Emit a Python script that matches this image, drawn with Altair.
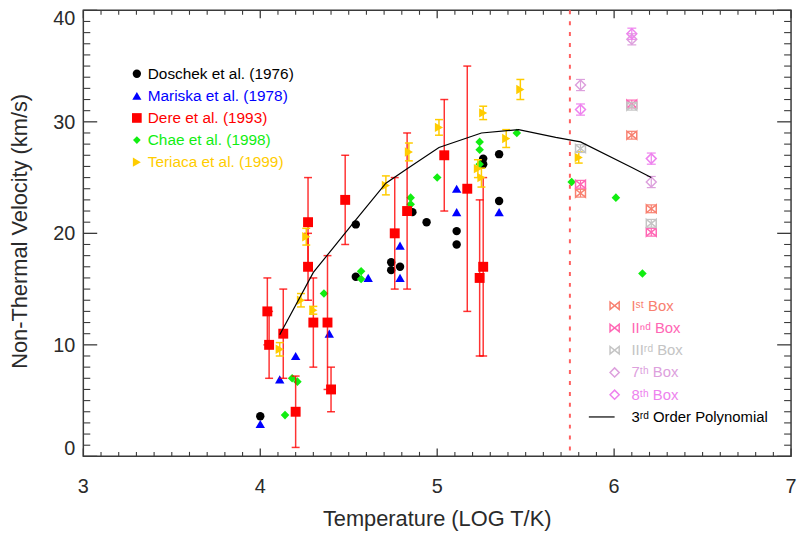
import altair as alt
import pandas as pd

# ---------------- data ----------------
dos_x = [4.00, 4.54, 4.54, 4.74, 4.74, 4.79, 4.86, 4.94, 5.11, 5.11, 5.26, 5.26, 5.35, 5.35]
dos_y = [3.6, 20.8, 16.1, 17.4, 16.7, 17.0, 21.9, 21.0, 20.2, 19.0, 26.7, 26.2, 27.1, 22.9]

mar_x = [4.00, 4.11, 4.20, 4.39, 4.61, 4.79, 4.79, 5.11, 5.11, 5.35]
mar_y = [2.9, 6.9, 9.0, 11.0, 16.0, 18.9, 16.0, 24.0, 21.9, 21.9]

dere_x = [4.04, 4.05, 4.13, 4.20, 4.27, 4.27, 4.30, 4.38, 4.40, 4.48, 4.76, 4.83, 5.04, 5.17, 5.24, 5.26]
dere_y = [13.0, 10.0, 11.0, 4.0, 21.0, 17.0, 12.0, 12.0, 6.0, 23.0, 20.0, 22.0, 27.0, 24.0, 16.0, 17.0]
dere_lo = [10.0, 7.0, 7.0, 0.8, 17.0, 14.0, 8.0, 6.0, 4.0, 19.0, 15.0, 15.0, 22.0, 13.0, 9.0, 9.0]
dere_hi = [16.0, 13.0, 15.0, 7.2, 25.0, 20.0, 16.0, 18.0, 8.0, 27.0, 25.0, 29.0, 32.0, 35.0, 23.0, 25.0]

chae_x = [4.14, 4.18, 4.21, 4.36, 4.57, 4.57, 4.85, 4.85, 5.00, 5.24, 5.24, 5.24, 5.45, 5.76, 6.01, 6.16]
chae_y = [3.7, 7.0, 6.7, 14.6, 16.6, 15.9, 23.2, 22.6, 25.0, 28.2, 27.5, 26.2, 29.0, 24.6, 23.2, 16.4]

ter_x = [4.11, 4.23, 4.26, 4.30, 4.71, 4.84, 5.01, 5.23, 5.25, 5.26, 5.39, 5.47, 5.80]
ter_y = [9.6, 14.0, 19.7, 13.1, 24.3, 27.3, 29.5, 25.8, 25.0, 30.8, 28.5, 32.9, 26.8]
ter_err = [0.6, 0.6, 0.75, 0.35, 0.85, 0.8, 0.7, 0.8, 0.85, 0.6, 0.8, 0.9, 0.5]

box_x = [5.81, 6.10, 6.21]
box1_y = [23.6, 28.8, 22.2]
box2_y = [24.4, 31.6, 20.1]
box3_y = [27.6, 31.4, 20.9]
box7_y = [33.3, 37.4, 24.6]
box8_y = [31.1, 37.9, 26.7]
bow_err = [0.35, 0.35, 0.35]
dia_err = [0.5, 0.5, 0.5]

poly_x = [4.11, 4.30, 4.54, 4.71, 4.83, 5.01, 5.25, 5.46, 5.67, 5.81, 6.10, 6.21]
poly_y = [10.9, 16.5, 21.2, 24.5, 25.8, 27.7, 29.0, 29.3, 28.6, 28.2, 25.9, 25.0]

boundary_x = [5.75]

x_major = [3, 4, 5, 6, 7]
y_major = [0, 10, 20, 30, 40]
y_mid_labels = [10, 20, 30]
x_minor = [3 + i / 10 for i in range(1, 40) if i % 10 != 0]
y_minor = [i for i in range(1, 40) if i % 10 != 0]

x_title = "Temperature (LOG T/K)"
y_title = "Non-Thermal Velocity (km/s)"
top_labels = ["Doschek et al. (1976)", "Mariska et al. (1978)", "Dere et al. (1993)",
              "Chae et al. (1998)", "Teriaca et al. (1999)"]
box_labels = ["I\u02e2\u1d57 Box", "II\u207f\u1d48 Box", "III\u02b3\u1d48 Box",
              "7\u1d57\u02b0 Box", "8\u1d57\u02b0 Box", "3\u02b3\u1d48 Order Polynomial"]

# ---------------- styling ----------------
W, H = 714, 450
FONT = "Liberation Sans"
AX = "#3a3a3a"
TXT = "#2a2a2a"
BLACK = "#000000"
BLUE = "#0000FF"
RED = "#FF0000"
GREEN = "#11EE11"
GOLD = "#FFCC00"
C1 = "#F88070"
C2 = "#FF66B4"
C3 = "#C4C4C4"
C7 = "#DDA0DD"
C8 = "#EE82EE"
BOWTIE = "M -1 -0.8 L 1 0.8 L 1 -0.8 L -1 0.8 Z"

xsc = alt.Scale(domain=[3, 7], nice=False, zero=False)
ysc = alt.Scale(domain=[0, 40], nice=False, zero=False)


def X(f):
    return alt.X(f, type="quantitative", scale=xsc, axis=None)


def Y(f):
    return alt.Y(f, type="quantitative", scale=ysc, axis=None)


layers = []

# ---------------- frame ticks (inward, all four sides) ----------------
xmaj = alt.Chart(pd.DataFrame({"v": x_major}))
xmin = alt.Chart(pd.DataFrame({"v": x_minor}))
ymaj = alt.Chart(pd.DataFrame({"v": y_major}))
ymin = alt.Chart(pd.DataFrame({"v": y_minor}))
layers += [
    xmaj.mark_rule(color=AX, strokeWidth=1.3).encode(x=X("v"), y=alt.value(H), y2=alt.value(H - 8)),
    xmaj.mark_rule(color=AX, strokeWidth=1.3).encode(x=X("v"), y=alt.value(0), y2=alt.value(8)),
    xmin.mark_rule(color=AX, strokeWidth=1.1).encode(x=X("v"), y=alt.value(H), y2=alt.value(H - 4.5)),
    xmin.mark_rule(color=AX, strokeWidth=1.1).encode(x=X("v"), y=alt.value(0), y2=alt.value(4.5)),
    ymaj.mark_rule(color=AX, strokeWidth=1.3).encode(y=Y("v"), x=alt.value(0), x2=alt.value(14)),
    ymaj.mark_rule(color=AX, strokeWidth=1.3).encode(y=Y("v"), x=alt.value(W), x2=alt.value(W - 14)),
    ymin.mark_rule(color=AX, strokeWidth=1.1).encode(y=Y("v"), x=alt.value(0), x2=alt.value(7)),
    ymin.mark_rule(color=AX, strokeWidth=1.1).encode(y=Y("v"), x=alt.value(W), x2=alt.value(W - 7)),
]

# ---------------- axis labels and titles (text placed through the scales) ----------------
LBL = dict(font=FONT, fontSize=20, color=TXT, baseline="alphabetic")
layers.append(xmaj.mark_text(align="center", dy=37, **LBL)
              .encode(x=X("v"), y=alt.value(H), text=alt.Text("v:Q", format="d")))
layers.append(alt.Chart(pd.DataFrame({"v": y_mid_labels})).mark_text(align="right", dy=7, **LBL)
              .encode(y=Y("v"), x=alt.value(-8), text=alt.Text("v:Q", format="d")))
layers.append(alt.Chart(pd.DataFrame({"v": y_major[:1]})).mark_text(align="right", dy=-1, **LBL)
              .encode(y=Y("v"), x=alt.value(-8), text=alt.Text("v:Q", format="d")))
layers.append(alt.Chart(pd.DataFrame({"v": y_major[-1:]})).mark_text(align="right", dy=15, **LBL)
              .encode(y=Y("v"), x=alt.value(-8), text=alt.Text("v:Q", format="d")))
one = pd.DataFrame({"a": [0]})
layers.append(alt.Chart(one).mark_text(text=x_title, align="center", baseline="alphabetic",
                                       font=FONT, fontSize=22, color=TXT)
              .encode(x=alt.value(W / 2), y=alt.value(H + 70)))
layers.append(alt.Chart(one).mark_text(text=y_title, align="center", baseline="middle", angle=270,
                                       font=FONT, fontSize=22, color=TXT)
              .encode(x=alt.value(-64), y=alt.value(H / 2 - 2)))

# dashed boundary line
layers.append(
    alt.Chart(pd.DataFrame({"x": boundary_x})).mark_rule(color="#FF6060", strokeWidth=2, strokeDash=[4, 7])
    .encode(x=X("x"), y=alt.value(0), y2=alt.value(H))
)


def points(xv, yv, shape, color, size, filled=True, sw=1.0):
    df = pd.DataFrame({"x": xv, "y": yv})
    return alt.Chart(df).mark_point(shape=shape, filled=filled, color=color, size=size,
                                    opacity=1, strokeWidth=sw).encode(x=X("x"), y=Y("y"))


def errbars(xv, lo, hi, color, cap=8, sw=1.5, op=1.0):
    df = pd.DataFrame({"x": xv, "lo": lo, "hi": hi})
    base = alt.Chart(df)
    return [
        base.mark_rule(color=color, strokeWidth=sw, opacity=op).encode(x=X("x"), y=Y("lo"), y2=alt.Y2("hi")),
        base.mark_tick(orient="horizontal", size=cap, thickness=sw, color=color, opacity=op)
        .encode(x=X("x"), y=Y("lo")),
        base.mark_tick(orient="horizontal", size=cap, thickness=sw, color=color, opacity=op)
        .encode(x=X("x"), y=Y("hi")),
    ]


layers.append(points(dos_x, dos_y, "circle", BLACK, 72))
layers.append(points(mar_x, mar_y, "triangle-up", BLUE, 90))
layers.append(points(chae_x, chae_y, "diamond", GREEN, 75))
layers += errbars(dere_x, dere_lo, dere_hi, RED, cap=8, sw=1.5, op=0.8)
layers.append(points(dere_x, dere_y, "square", RED, 100))
ter_lo = [a - b for a, b in zip(ter_y, ter_err)]
ter_hi = [a + b for a, b in zip(ter_y, ter_err)]
layers += errbars(ter_x, ter_lo, ter_hi, GOLD, cap=8, sw=1.5)
layers.append(points(ter_x, ter_y, "triangle-right", GOLD, 90))

# box observations
for yv, col, shape, err in [(box1_y, C1, BOWTIE, bow_err), (box2_y, C2, BOWTIE, bow_err),
                             (box3_y, C3, BOWTIE, bow_err), (box7_y, C7, "diamond", dia_err),
                             (box8_y, C8, "diamond", dia_err)]:
    lo = [a - b for a, b in zip(yv, err)]
    hi = [a + b for a, b in zip(yv, err)]
    layers += errbars(box_x, lo, hi, col, cap=9, sw=1.2)
    layers.append(points(box_x, yv, shape, col, 100, filled=False, sw=1.5))

# polynomial fit
layers.append(
    alt.Chart(pd.DataFrame({"x": poly_x, "y": poly_y})).mark_line(color=BLACK, strokeWidth=1.2)
    .encode(x=X("x"), y=Y("y"))
)

# ---------------- legends (manual, pixel layout) ----------------
tl_shapes = [("circle", BLACK, 70), ("triangle-up", BLUE, 85), ("square", RED, 95),
             ("diamond", GREEN, 60), ("triangle-right", GOLD, 85)]
tl_colors = [BLACK, BLUE, RED, GREEN, GOLD]
for i, (lab, (shp, col, sz)) in enumerate(zip(top_labels, tl_shapes)):
    yp = 64 + 22.3 * i
    layers.append(alt.Chart(one).mark_point(shape=shp, filled=True, color=col, size=sz, opacity=1)
                  .encode(x=alt.value(54), y=alt.value(yp)))
    layers.append(alt.Chart(one).mark_text(text=lab, align="left", baseline="middle", font=FONT,
                                           fontSize=15.5, color=tl_colors[i])
                  .encode(x=alt.value(65), y=alt.value(yp)))

br_syms = [(BOWTIE, C1), (BOWTIE, C2), (BOWTIE, C3), ("diamond", C7), ("diamond", C8)]
br_colors = [C1, C2, C3, C7, C8, BLACK]
for i, lab in enumerate(box_labels):
    yp = 298 + 22.45 * i
    if i < 5:
        shp, col = br_syms[i]
        layers.append(alt.Chart(one).mark_point(shape=shp, filled=False, color=col, size=85,
                                                opacity=1, strokeWidth=1.5)
                      .encode(x=alt.value(536), y=alt.value(yp)))
    else:
        layers.append(alt.Chart(one).mark_rule(color=BLACK, strokeWidth=1.2)
                      .encode(x=alt.value(510), x2=alt.value(536), y=alt.value(yp)))
    layers.append(alt.Chart(one).mark_text(text=lab, align="left", baseline="middle", font=FONT,
                                           fontSize=15, color=br_colors[i])
                  .encode(x=alt.value(553), y=alt.value(yp)))

chart = (
    alt.layer(*layers)
    .properties(width=W, height=H,
                padding={"left": 76, "top": 0, "right": 6, "bottom": 76},
                autosize=alt.AutoSizeParams(type="none"))
    .configure_view(stroke=AX, strokeWidth=1.5)
)

chart.save("out.html", embed_options={"renderer": "svg", "actions": False})
